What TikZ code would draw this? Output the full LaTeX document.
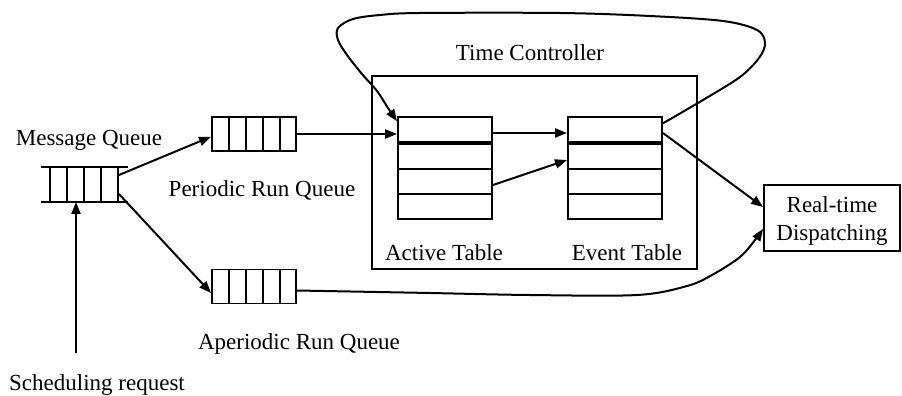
\documentclass[tikz,border=0pt]{standalone}
\usepackage{fontspec}
\setmainfont{Liberation Serif}
\usetikzlibrary{arrows.meta,calc}
\begin{document}
\begin{tikzpicture}[x=1pt,y=-1pt,line width=1.9pt,
  txt/.style={font=\fontsize{23}{28.3}\selectfont,inner sep=0pt,anchor=base},
  qbox/.style={draw,minimum width=84pt,minimum height=34pt,inner sep=0pt},
  cellbox/.style={draw,minimum width=94pt,minimum height=25pt,inner sep=0pt},
  frame/.style={draw,inner sep=0pt},
  flow/.style={-{Triangle[length=12pt,width=9pt]},line width=2pt},
  loopline/.style={flow,line join=round}]
\useasboundingbox (0,0) rectangle (902,396);

% message queue (open-ended buffer)
\node[minimum width=68pt,minimum height=33pt,inner sep=0pt] (mq) at (84,184.5) {};
\draw ($(mq.north west)+(-8,0)$) -- ($(mq.north east)+(9,0)$);
\draw ($(mq.south west)+(-8,0)$) -- ($(mq.south east)+(9,0)$);
\foreach \dx in {-34,-17,0,17,34}
  \draw ($(mq.north)+(\dx,0)$) -- ($(mq.south)+(\dx,0)$);
\node[txt] (mqlabel) at (89,145) {Message Queue};

% run queues
\node[qbox] (pq) at (254,134) {};
\node[qbox] (aq) at (254,286.5) {};
\foreach \q in {pq,aq}
  \foreach \dx in {-25,-8,9,26}
    \draw ($(\q.north)+(\dx,0)$) -- ($(\q.south)+(\dx,0)$);
\node[txt] (pqlabel) at (262,196) {Periodic Run Queue};
\node[txt] (aqlabel) at (299,349) {Aperiodic Run Queue};

% scheduling request
\coordinate (sr) at (76,353);
\node[txt] (srlabel) at (97,390) {Scheduling request};
\draw[flow] (sr) -- (sr |- mq.south);

% time controller
\node[frame,minimum width=325pt,minimum height=193pt] (tc) at (534.5,172.5) {};
\node[txt] (tclabel) at (530,60) {Time Controller};

% active and event tables
\foreach \t/\x in {at/445,et/615}{
  \node[cellbox,minimum height=24.5pt] (\t1) at (\x,129.5) {};
  \node[cellbox] (\t2) at (\x,156.5) {};
  \node[cellbox] (\t3) at (\x,181.5) {};
  \node[cellbox] (\t4) at (\x,206.5) {};
}
\node[txt] (atlabel) at (444,260) {Active Table};
\node[txt] (etlabel) at (627,260) {Event Table};

% dispatcher
\node[frame,minimum width=136pt,minimum height=66pt] (rt) at (832,218) {};
\node[txt] (rtlabel1) at (832,212.5) {Real-time};
\node[txt] (rtlabel2) at (832,240.8) {Dispatching};

% flows
\draw[flow] ($(mq.east)+(0,-9.5)$) -- ($(pq.west)+(0,2.7)$);
\draw[flow] ($(mq.east)+(0,9.5)$) -- ($(aq.west)+(0,6.5)$);
\draw[flow] (pq.east) -- (pq.east -| at1.west);
\draw[flow] ($(at1.east)+(0,3.5)$) -- ($(et1.west)+(0,3.5)$);
\draw[flow] ($(at3.east)+(0,3.5)$) -- ($(et2.west)+(0,3.5)$);
\draw[flow] ($(et1.east)+(0,3.5)$) -- ($(rt.west)+(0,-11)$);

% feedback loop over the time controller
\coordinate (loopstart) at ($(et1.north east)+(0,7)$);
\coordinate (loopend) at ($(at1.north west)+(0,5)$);
\draw[loopline] plot[smooth,tension=0.55] coordinates {
  (loopstart) (703,100) (740,77) (759,58) (765,43) (757,30) (723,21)
  (650,16) (560,13) (420,13) (380,15) (353,19) (338,28) (338,40)
  (347,55) (362,74) (377,91) (388,108) (loopend)};

% aperiodic path round the time controller
\coordinate (apstart) at ($(aq.east)+(0,4)$);
\coordinate (apend) at ($(rt.west)+(0,11)$);
\draw[loopline] plot[smooth,tension=0.55] coordinates {
  (apstart) (430,293) (530,295) (637,295) (687,286) (712,275)
  (740,257) (755,240) (apend)};
\end{tikzpicture}
\end{document}
